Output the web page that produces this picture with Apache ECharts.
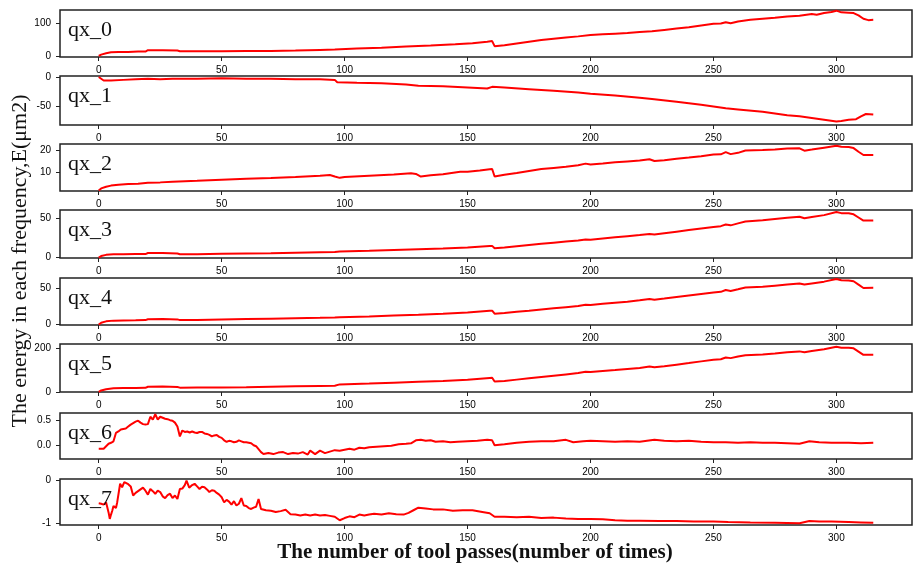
<!DOCTYPE html>
<html lang="en">
<head>
    <meta charset="UTF-8">
    <title>Energy in each frequency</title>
    <script src="https://cdn.jsdelivr.net/npm/echarts@6.0.0/dist/echarts.min.js"></script>
    <style>
        html, body {
            margin: 0;
            padding: 0;
            background: #fff;
        }
    </style>
</head>
<body>
<div id="main" style="width:914px;height:565px;"></div>
<script>
    // x = tool pass number, y = energy
    var names = ['qx_0', 'qx_1', 'qx_2', 'qx_3', 'qx_4', 'qx_5', 'qx_6', 'qx_7'];
    var xTicks = [0, 50, 100, 150, 200, 250, 300];
    var yTicks = [[0, 100], [-50, 0], [10, 20], [0, 50], [0, 50], [0, 200], [0, 0.5], [-1, 0]];
    var yMin = [-1, -83, 1.3, -0.5, -0.5, -1, -0.28, -1.04];
    var yMax = [138, 1.7, 23.1, 60.5, 64, 220, 0.656, 0.02];

    var qx0 = [[0,2],[1,6],[3,10],[5,13],[8,14],[12,14],[16,15],[19,15],[20,19],[26,19],[32,18],[33,16],[40,16],[50,16],[60,17],[70,17],[80,18],[90,20],[96,21],[105,24],[115,26],[125,30],[135,33],[145,37],[152,40],[158,44],[160,46],[161,31],[165,34],[170,39],[175,44],[180,49],[185,53],[190,57],[195,60],[200,64],[205,66],[210,68],[215,70],[220,73],[225,75],[230,79],[235,83],[240,87],[245,92],[250,97],[253,98],[255,102],[257,99],[260,104],[265,109],[270,112],[275,115],[280,119],[285,121],[290,126],[292,124],[295,129],[298,132],[300,136],[302,131],[305,130],[307,129],[309,122],[311,112],[313,108],[315,109]];
    var qx1 = [[0,0],[1,-3],[2,-6],[5,-6],[10,-5],[15,-4],[20,-3],[25,-4],[30,-3],[40,-3],[50,-2],[60,-3],[70,-3],[80,-4],[90,-4],[96,-5],[97,-9],[105,-10],[115,-11],[125,-13],[130,-15],[140,-16],[150,-18],[158,-20],[160,-17],[165,-18],[175,-21],[185,-24],[195,-27],[200,-29],[210,-32],[220,-36],[225,-38],[235,-43],[245,-48],[250,-51],[255,-54],[260,-56],[270,-60],[280,-66],[285,-68],[290,-71],[295,-74],[300,-77],[302,-76],[305,-74],[308,-73],[310,-68],[312,-64],[315,-65]];
    var qx2 = [[0,1.5],[1,2.5],[3,3.3],[5,3.8],[8,4.2],[12,4.5],[16,4.7],[20,5.1],[25,5.3],[30,5.6],[40,6],[50,6.5],[60,7],[70,7.3],[80,7.8],[90,8.4],[94,8.7],[96,8],[98,7.4],[100,7.8],[110,8.4],[120,9],[127,9.5],[129,9.2],[131,8],[135,8.6],[140,9.1],[147,10.2],[150,10.2],[155,10.8],[159,11.4],[160,11.5],[161,8],[165,8.8],[170,9.6],[175,10.6],[180,11.5],[185,12],[190,12.5],[195,13.2],[198,14],[200,13.6],[205,14],[210,14.6],[215,15],[220,15.4],[224,16],[226,15.2],[230,15.6],[235,16.3],[240,16.8],[245,17.4],[250,18.2],[253,18.3],[255,19.3],[257,18.4],[260,19],[263,20.1],[270,20.3],[275,20.5],[280,21],[285,21.1],[287,20],[290,20.5],[295,21.4],[300,22.3],[302,21.8],[305,21.7],[307,21.2],[309,19.5],[311,18],[315,18]];
    var qx3 = [[0,0],[1,2],[3,3.5],[6,4.2],[10,4.4],[15,4.6],[19,4.5],[20,5.8],[26,5.8],[32,5.2],[33,4.3],[40,4.4],[50,4.8],[60,5.2],[70,5.6],[80,6.2],[90,6.8],[96,7.2],[98,7.8],[110,8.6],[120,9.6],[130,10.6],[140,11.6],[150,12.8],[159,14.8],[160,14.9],[161,12],[165,12.8],[170,14.5],[175,16],[180,17.5],[185,19],[190,20.5],[195,21.8],[198,23],[200,22.8],[205,24.4],[210,25.8],[215,27.2],[220,28.6],[224,30],[226,29.4],[230,31],[235,33],[240,35],[245,37],[250,39],[253,40],[255,42],[257,41],[260,43.5],[263,46],[270,47.5],[275,49],[280,50.5],[285,52],[287,50],[290,51.5],[295,54],[300,58],[302,56.5],[305,56.3],[307,55],[309,51],[311,47],[315,47.2]];
    var qx4 = [[0,0],[1,2.5],[3,4.5],[6,5.5],[10,5.8],[15,6],[19,6.2],[20,7.4],[26,7.6],[32,7.2],[33,6.2],[40,6.5],[50,7],[60,7.6],[70,8.2],[80,8.8],[90,9.4],[96,9.8],[98,10.3],[110,11.3],[120,12.5],[130,13.6],[140,14.8],[150,16.5],[159,19],[160,19.2],[161,15],[165,16],[170,17.6],[175,19],[180,20.8],[185,22.5],[190,24],[195,25.5],[198,27.3],[200,27],[205,28.5],[210,30],[215,31.5],[220,33.5],[224,35.2],[226,34.2],[230,35.8],[235,38],[240,40],[245,42],[250,44],[253,45],[255,47.5],[257,46.2],[260,48.5],[263,51],[270,52],[275,53.5],[280,55],[285,56.5],[287,55],[290,56.5],[295,59],[300,62.7],[302,61],[305,60.5],[307,59.5],[309,55],[311,50.3],[315,50.5]];
    var qx5 = [[0,0],[1,6],[3,12],[6,16],[10,17],[15,17.5],[19,18],[20,23],[26,24],[32,22],[33,19],[40,19.5],[50,20],[60,21],[70,23],[80,25],[90,27],[96,28],[98,34],[110,38],[120,42],[130,46],[140,50],[150,55],[159,64],[160,64.5],[161,47],[165,50],[170,56],[175,62],[180,68],[185,74],[190,80],[195,86],[198,92],[200,91],[205,96],[210,100],[215,105],[220,110],[224,116],[226,113],[230,118],[235,125],[240,132],[245,140],[250,148],[253,150],[255,158],[257,155],[260,162],[263,168],[270,172],[275,176],[280,182],[285,186],[287,182],[290,188],[295,196],[300,207],[302,203],[305,203],[307,200],[309,185],[311,170],[315,170]];
    var qx6 = [[0,-0.07],[2,-0.07],[3,-0.02],[4,0.03],[5,0.05],[6,0.08],[7,0.25],[8,0.28],[9,0.32],[10,0.33],[11,0.34],[12,0.38],[13,0.42],[14,0.45],[15,0.48],[16,0.5],[17,0.46],[18,0.43],[19,0.42],[20,0.43],[21,0.58],[22,0.52],[23,0.63],[24,0.52],[25,0.58],[26,0.56],[27,0.54],[28,0.53],[29,0.51],[30,0.5],[31,0.46],[32,0.38],[33,0.18],[34,0.3],[35,0.27],[36,0.28],[37,0.26],[38,0.28],[39,0.26],[40,0.25],[41,0.27],[42,0.27],[43,0.24],[44,0.23],[45,0.21],[46,0.18],[47,0.2],[48,0.21],[49,0.17],[50,0.15],[51,0.1],[52,0.07],[53,0.09],[54,0.08],[55,0.06],[56,0.07],[57,0.1],[58,0.08],[59,0.06],[60,0.06],[61,0.05],[62,0.04],[63,0],[64,-0.02],[65,-0.08],[66,-0.14],[67,-0.18],[69,-0.16],[71,-0.18],[73,-0.15],[75,-0.14],[77,-0.18],[79,-0.16],[81,-0.17],[83,-0.14],[85,-0.19],[86,-0.11],[88,-0.18],[90,-0.11],[92,-0.16],[94,-0.13],[96,-0.1],[98,-0.11],[100,-0.09],[102,-0.07],[104,-0.09],[106,-0.05],[108,-0.06],[110,-0.04],[113,-0.03],[116,-0.02],[119,-0.01],[122,0.02],[125,0.03],[127,0.04],[129,0.1],[131,0.11],[133,0.09],[135,0.1],[137,0.07],[140,0.08],[143,0.06],[146,0.07],[150,0.08],[154,0.09],[158,0.11],[160,0.1],[161,0],[165,0.02],[170,0.05],[175,0.07],[180,0.08],[185,0.08],[190,0.11],[193,0.06],[197,0.08],[200,0.09],[205,0.08],[210,0.07],[215,0.08],[220,0.07],[226,0.11],[230,0.09],[235,0.08],[240,0.09],[245,0.07],[250,0.06],[255,0.06],[260,0.05],[265,0.06],[270,0.05],[275,0.05],[280,0.04],[285,0.03],[289,0.08],[293,0.06],[298,0.05],[305,0.05],[310,0.04],[315,0.05]];
    var qx7 = [[0,-0.54],[1,-0.55],[2,-0.57],[3,-0.52],[4,-0.75],[4.5,-0.9],[5,-0.8],[5.5,-0.71],[6,-0.6],[7,-0.65],[7.5,-0.52],[8,-0.55],[8.7,-0.09],[9.5,-0.17],[10.4,-0.05],[11,-0.03],[12,-0.1],[13,-0.15],[14,-0.36],[15,-0.3],[16,-0.26],[17,-0.22],[18,-0.18],[19,-0.25],[20,-0.34],[21,-0.21],[22,-0.26],[23,-0.32],[24,-0.25],[25,-0.28],[26,-0.38],[27,-0.42],[28,-0.35],[29,-0.32],[30,-0.42],[31,-0.36],[32,-0.44],[33,-0.21],[34,-0.2],[35,-0.12],[35.7,-0.02],[36.8,-0.18],[38,-0.12],[39,-0.09],[40,-0.15],[41,-0.21],[42,-0.16],[43,-0.17],[44,-0.22],[45,-0.28],[46,-0.24],[47,-0.25],[48,-0.3],[49,-0.34],[50,-0.4],[51,-0.52],[52,-0.46],[53,-0.5],[54,-0.57],[55,-0.49],[56,-0.59],[57,-0.55],[58,-0.42],[59,-0.59],[60,-0.6],[61,-0.65],[62,-0.67],[63,-0.64],[64,-0.62],[65,-0.44],[66,-0.67],[68,-0.7],[70,-0.71],[72,-0.74],[74,-0.72],[76,-0.69],[78,-0.79],[80,-0.8],[82,-0.82],[84,-0.8],[86,-0.82],[88,-0.8],[90,-0.82],[92,-0.81],[94,-0.83],[96,-0.85],[98,-0.93],[100,-0.88],[102,-0.84],[104,-0.86],[106,-0.8],[108,-0.82],[110,-0.8],[112,-0.78],[115,-0.8],[118,-0.77],[121,-0.79],[124,-0.8],[126,-0.76],[128,-0.7],[130,-0.64],[133,-0.66],[136,-0.68],[140,-0.68],[144,-0.71],[148,-0.7],[152,-0.7],[156,-0.74],[159,-0.77],[161,-0.85],[165,-0.85],[170,-0.86],[175,-0.85],[180,-0.88],[185,-0.87],[190,-0.89],[195,-0.9],[200,-0.9],[205,-0.91],[210,-0.93],[215,-0.94],[220,-0.94],[228,-0.95],[235,-0.95],[242,-0.96],[250,-0.96],[256,-0.97],[265,-0.98],[275,-0.99],[285,-1],[289,-0.95],[293,-0.96],[298,-0.96],[305,-0.97],[310,-0.98],[315,-0.99]];
    var seriesData = [qx0, qx1, qx2, qx3, qx4, qx5, qx6, qx7];

    // panel boxes, px from the top of the page
    var tops = [10, 76, 144, 210, 278, 344, 413, 479];
    var heights = [47, 49, 47, 48, 47, 48, 46, 46];

    var myChart = echarts.init(document.getElementById('main'));
    var tickFont = {fontSize: 10, color: '#000', fontFamily: 'Liberation Sans, Arial, sans-serif'};

    var option = {
        animation: false,
        backgroundColor: '#fff',
        grid: [], xAxis: [], yAxis: [], series: [], title: [],
        graphic: [{
            type: 'text', x: 20, y: 261, rotation: Math.PI / 2,
            style: {
                text: 'The energy in each frequency,E(\u03bcm2)',
                font: '22px "Liberation Serif", "Times New Roman", serif',
                fill: '#111', align: 'center', verticalAlign: 'middle'
            }
        }, {
            type: 'text', x: 475, y: 553,
            style: {
                text: 'The number of tool passes(number of times)',
                font: 'bold 21px "Liberation Serif", "Times New Roman", serif',
                fill: '#111', align: 'center', verticalAlign: 'middle'
            }
        }]
    };

    for (var i = 0; i < names.length; i++) {
        option.grid.push({
            left: 60, right: 2, top: tops[i], height: heights[i],
            show: true, borderColor: '#222', borderWidth: 1.5,
            outerBoundsMode: 'none'
        });
        option.xAxis.push({
            type: 'value', gridIndex: i, min: -15.75, max: 330.75,
            splitLine: {show: false}, axisLine: {show: false, onZero: false},
            axisTick: {show: true, length: 4, customValues: xTicks, lineStyle: {color: '#222'}},
            axisLabel: Object.assign({customValues: xTicks, margin: 8}, tickFont)
        });
        option.yAxis.push({
            type: 'value', gridIndex: i, min: yMin[i], max: yMax[i],
            splitLine: {show: false}, axisLine: {show: false, onZero: false},
            axisTick: {show: true, length: 4, customValues: yTicks[i], lineStyle: {color: '#222'}},
            axisLabel: Object.assign({
                customValues: yTicks[i], margin: 9,
                formatter: i === 6 ? function (v) { return v.toFixed(1); } : null
            }, tickFont)
        });
        option.series.push({
            type: 'line', name: names[i], xAxisIndex: i, yAxisIndex: i,
            data: seriesData[i], showSymbol: false, silent: true,
            lineStyle: {color: '#ff0000', width: 2}
        });
        option.title.push({
            text: names[i], left: 68, top: tops[i] + 9, padding: 0,
            textStyle: {fontFamily: 'Liberation Serif', fontSize: 22, fontWeight: 'normal', color: '#111'}
        });
    }

    myChart.setOption(option);
</script>
</body>
</html>
